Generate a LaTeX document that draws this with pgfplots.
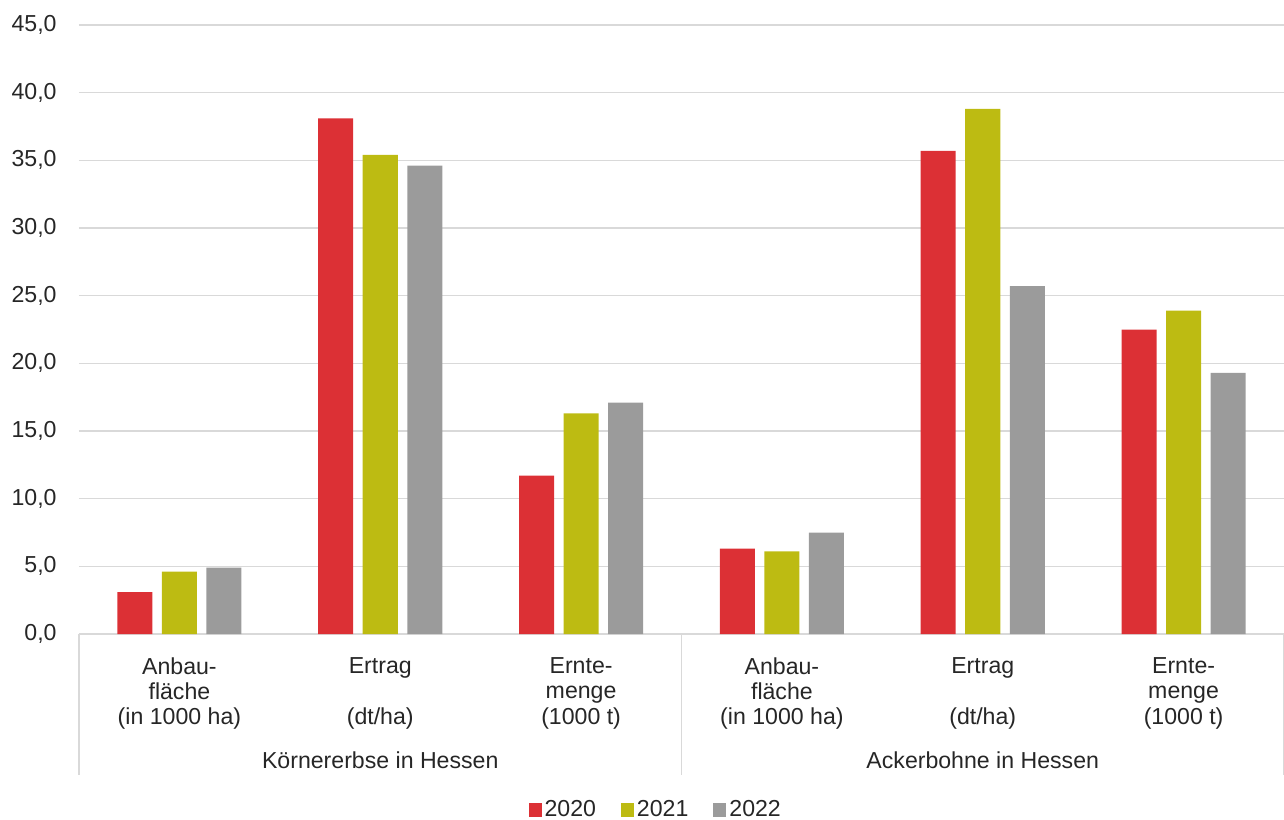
\documentclass[border=0pt]{standalone}
\usepackage{fontspec}
\setmainfont{Liberation Sans}
\usepackage{pgfplots}
\usepackage{pgfplotstable}
\pgfplotsset{compat=1.18}
\definecolor{cred}{HTML}{DC3035}
\definecolor{cyel}{HTML}{BDBB12}
\definecolor{cgray}{HTML}{9B9B9B}
\definecolor{gridc}{HTML}{D9D9D9}
\definecolor{txt}{HTML}{262626}

\pgfplotstableread{
x y
0 3.1
1 38.1
2 11.7
3 6.3
4 35.7
5 22.5
}\ta
\pgfplotstableread{
x y
0 4.6
1 35.4
2 16.3
3 6.1
4 38.8
5 23.9
}\tb
\pgfplotstableread{
x y
0 4.9
1 34.6
2 17.1
3 7.5
4 25.7
5 19.3
}\tc

\begin{document}
\begin{tikzpicture}[font=\fontsize{11.6}{12.75}\selectfont, text=txt]
\begin{axis}[
  at={(0,0)}, anchor=south west,
  scale only axis, width=602.5bp, height=304.5bp,
  clip=false,
  ybar=4.75bp, bar width=17.5bp,
  xmin=-0.5, xmax=5.5, ymin=0, ymax=45,
  ytick={0,5,...,45},
  xtick={0,...,5},
  xticklabels={{Anbau-\\fläche\\(in 1000 ha)},{Ertrag\\\phantom{X}\\(dt/ha)},{Ernte-\\menge\\(1000 t)},{Anbau-\\fläche\\(in 1000 ha)},{Ertrag\\\phantom{X}\\(dt/ha)},{Ernte-\\menge\\(1000 t)}},
  xticklabel style={align=center, anchor=north, inner sep=0pt, yshift=-11.5bp, text=txt},
  yticklabel style={anchor=east, inner sep=0pt, xshift=-11bp, text=txt},
  /pgf/number format/.cd, fixed, fixed zerofill, precision=1, use comma, assume math mode=true,
  /pgfplots/.cd,
  major tick length=0pt,
  axis x line*=bottom, axis y line*=left,
  y axis line style={draw=none},
  x axis line style={draw=gridc, line width=0.75bp},
  ymajorgrids, grid style={draw=gridc, line width=0.75bp},
  legend style={at={(0.479,-0.289)}, anchor=center, draw=none, fill=none,
    legend columns=3, font=\fontsize{11.6}{12.75}\selectfont,
    /tikz/every even column/.append style={column sep=11bp},
    inner sep=0pt, nodes={inner sep=1.5bp, text=txt}},
  legend image code/.code={\fill[#1] (0bp,-3.5bp) rectangle (6.5bp,3.5bp);},
]
\addplot[fill=cred, draw=none] table[x=x,y=y] {\ta};
\addplot[fill=cyel, draw=none] table[x=x,y=y] {\tb};
\addplot[fill=cgray, draw=none] table[x=x,y=y] {\tc};
\legend{2020,2021,2022}
\draw[gridc, line width=0.75bp] (axis cs:-0.5,0) -- ++(0bp,-70.5bp);
\draw[gridc, line width=0.75bp] (axis cs:2.5,0) -- ++(0bp,-70.5bp);
\draw[gridc, line width=0.75bp] (axis cs:5.5,0) -- ++(0bp,-70.5bp);
\node[yshift=-63bp] at (axis cs:1,0) {Körnererbse in Hessen};
\node[yshift=-63bp] at (axis cs:4,0) {Ackerbohne in Hessen};
\end{axis}
\pgfresetboundingbox
\path (-39.5bp,-93bp) rectangle (602.5bp,317bp);
\end{tikzpicture}
\end{document}
